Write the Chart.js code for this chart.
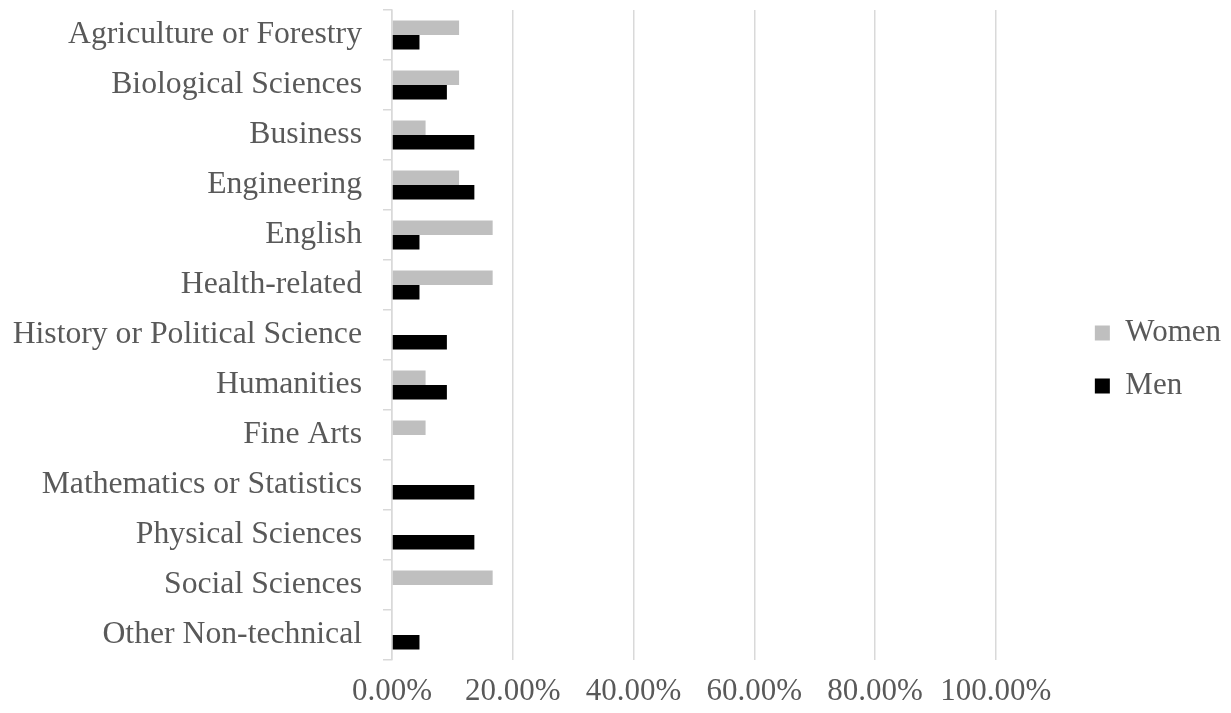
<!DOCTYPE html>
<html>
<head>
<meta charset="utf-8">
<title>Field of study by gender</title>
<script src="https://cdn.jsdelivr.net/npm/chart.js@4/dist/chart.umd.min.js"></script>
<style>
  html, body { margin: 0; padding: 0; background: #ffffff; }
  #wrap { width: 1231px; height: 713px; }
</style>
</head>
<body>
<div id="wrap"><canvas id="chart" width="1231" height="713"></canvas></div>
<script>
// Fields of study, listed top to bottom
const categories = [
  'Agriculture or Forestry',
  'Biological Sciences',
  'Business',
  'Engineering',
  'English',
  'Health-related',
  'History or Political Science',
  'Humanities',
  'Fine Arts',
  'Mathematics or Statistics',
  'Physical Sciences',
  'Social Sciences',
  'Other Non-technical'
];

// Share of respondents (percent)
const womenValues = [11.11, 11.11, 5.56, 11.11, 16.67, 16.67, 0, 5.56, 5.56, 0, 0, 16.67, 0];
const menValues   = [4.55, 9.09, 13.64, 13.64, 4.55, 4.55, 9.09, 9.09, 0, 13.64, 13.64, 0, 4.55];

// Percentage axis ticks
const xTicks = [0, 20, 40, 60, 80, 100];

const serif = "'Liberation Serif', 'Times New Roman', serif";
const textGray = '#595959';
const lineGray = '#d9d9d9';

new Chart(document.getElementById('chart'), {
  type: 'bar',
  data: {
    labels: categories,
    datasets: [
      { label: 'Women', data: womenValues, backgroundColor: '#bfbfbf', borderWidth: 0 },
      { label: 'Men',   data: menValues,   backgroundColor: '#000000', borderWidth: 0 }
    ]
  },
  options: {
    indexAxis: 'y',
    responsive: false,
    animation: false,
    events: [],
    datasets: { bar: { categoryPercentage: 0.58, barPercentage: 1.0 } },
    layout: { padding: { left: 12, top: 10, right: 0, bottom: 4 } },
    scales: {
      x: {
        min: 0,
        max: 100,
        afterBuildTicks: (scale) => { scale.ticks = xTicks.map(v => ({ value: v })); },
        ticks: {
          color: textGray,
          font: { family: serif, size: 31 },
          padding: 13,
          maxRotation: 0,
          callback: (v) => Number(v).toFixed(2) + '%'
        },
        grid: { color: lineGray, lineWidth: 1.5, drawTicks: false },
        border: { display: false },
        // label row: padding + one text line
        afterFit: (scale) => { scale.height = 49; }
      },
      y: {
        ticks: {
          color: textGray,
          font: { family: serif, size: 31.7 },
          padding: 21,
          autoSkip: false
        },
        grid: { drawOnChartArea: false, drawTicks: true, tickLength: 9, color: lineGray, lineWidth: 1.5, offset: true },
        border: { display: true, color: lineGray, width: 1.5 },
        // room for the full category names; labels sit mid-band so no edge overflow
        afterFit: (scale) => {
          scale.width = 380;
          scale.paddingTop = 0;
          scale.paddingBottom = 0;
        }
      },
      // empty spacer between the plot and the legend
      gap: {
        axis: 'y',
        type: 'category',
        position: 'right',
        ticks: { display: false },
        grid: { display: false },
        border: { display: false },
        afterFit: (scale) => {
          scale.width = 77;
          scale.paddingTop = 0;
          scale.paddingBottom = 0;
        }
      }
    },
    plugins: {
      legend: {
        position: 'right',
        labels: {
          color: textGray,
          font: { family: serif, size: 31 },
          boxWidth: 15,
          boxHeight: 15,
          padding: 22
        }
      },
      tooltip: { enabled: false },
      title: { display: false }
    }
  }
});
</script>
</body>
</html>
